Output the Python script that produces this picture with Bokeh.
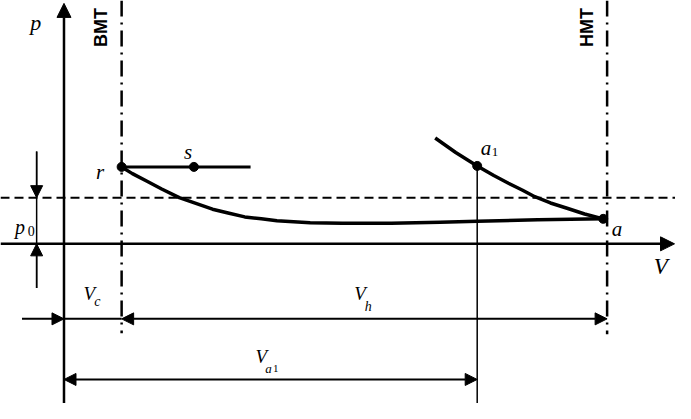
from bokeh.plotting import figure
from bokeh.models import Range1d, Arrow, NormalHead
from bokeh.core.properties import value
from bokeh.embed import file_html
from bokeh.resources import INLINE

# ---- diagram data (V measured from the p axis, p measured from the V axis) ----
V_BMT = 59          # top dead centre (BMT)
V_HMT = 556         # bottom dead centre (HMT)
p_0 = 48            # ambient pressure level
V_a1 = 423          # volume at point a1

# intake line r -> a
V_main = [59, 70, 85, 100, 118, 135, 152, 168, 185, 202, 218, 235, 252, 285, 335, 385, 423, 485, 552]
p_main = [80, 73, 65, 57, 48, 42, 36, 32, 28, 26, 24, 23, 22, 21.5, 21.5, 22.5, 23.5, 25, 26]
# compression line through a1 -> a
V_comp = [380, 401, 423, 440, 455, 469, 482, 498, 515, 533, 552]
p_comp = [110, 95, 81, 71, 63, 56, 49, 42.5, 37, 31, 26]
# exhaust line r - s
V_rs = [59, 191]
p_rs = [80, 80]
# marked points
pt_names = ["r", "s", "a1", "a"]
pt_V = [59, 133, 423, 552]
pt_p = [80, 80, 81, 26]

# axis extents
V_axis = [-65, 625]
p_axis = [-166, 250]
row1_p = -78      # V_c / V_h dimension line
row2_p = -141     # V_a1 dimension line
dim_p0_V = -28    # p0 dimension line

p = figure(width=675, height=403, x_range=Range1d(-65, 626), y_range=Range1d(-166, 253),
           output_backend="svg", toolbar_location=None, x_axis_location=None,
           y_axis_location=None, min_border=0, outline_line_color=None,
           background_fill_color="white", border_fill_color="white")
p.grid.grid_line_color = None

K = "black"

def head(size):
    return NormalHead(size=size, fill_color=K, line_color=K, line_width=1)

def arrow(x0, y0, x1, y1, lw, size, both=False):
    p.add_layout(Arrow(end=head(size), start=head(size) if both else None,
                       x_start=x0, y_start=y0, x_end=x1, y_end=y1,
                       line_width=lw, line_color=K))

# dash-dot dead-centre lines
p.line([V_BMT, V_BMT], [253, -93], line_color=K, line_width=2.5, line_dash="16 6 2 6")
p.line([V_HMT, V_HMT], [253, -94], line_color=K, line_width=2.5, line_dash="16 6 2 6")
# ambient pressure dashed line
p.line([V_axis[0], 640], [p_0, p_0], line_color=K, line_width=2, line_dash="9 5")

# axes
arrow(0, p_axis[0], 0, p_axis[1], 2.5, 14)
arrow(V_axis[0], 0, V_axis[1], 0, 2.5, 14)

# a1 vertical
p.line([V_a1, V_a1], [pt_p[2], p_axis[0]], line_color=K, line_width=1.5)

# p0 dimension
p.line([dim_p0_V, dim_p0_V], [96, -46], line_color=K, line_width=1.5)
arrow(dim_p0_V, 96, dim_p0_V, p_0, 1.5, 12)
arrow(dim_p0_V, -46, dim_p0_V, 0, 1.5, 12)

# V_c / V_h dimension
arrow(-43, row1_p, 0, row1_p, 2, 12)
p.line([0, V_BMT], [row1_p, row1_p], line_color=K, line_width=2)
arrow(V_BMT, row1_p, V_HMT, row1_p, 2, 12, both=True)
# V_a1 dimension
arrow(0, row2_p, V_a1, row2_p, 2, 12, both=True)

# curves
p.line(V_rs, p_rs, line_color=K, line_width=3)
p.line(V_main, p_main, line_color=K, line_width=3.5, line_join="round")
p.line(V_comp, p_comp, line_color=K, line_width=3.5, line_join="round")
p.scatter(pt_V, pt_p, size=9, fill_color=K, line_color=K)

serif = value("Liberation Serif")
sans = value("Liberation Sans")

def txt(x, y, s, size, italic=True, align="center", font=serif):
    p.text([x], [y], text=[s], text_font=font, text_font_size=f"{size}px",
           text_font_style="italic" if italic else "normal",
           text_align=align, text_baseline="alphabetic", text_color=K)

# axis labels
txt(-29, 230, "p", 22)
txt(611, -24, "V", 23)
# point labels
txt(pt_V[0] - 22, pt_p[0] - 5, "r", 21)
txt(pt_V[1] - 6, pt_p[1] + 15, "s", 21)
txt(pt_V[2] + 9, pt_p[2] + 19, "a", 21)
txt(pt_V[2] + 15, pt_p[2] + 14, "1", 13, italic=False, align="left")
txt(pt_V[3] + 14, pt_p[3] - 11, "a", 21)
# p0 label
txt(-45, 17, "p", 20)
txt(-37, 13, "0", 14, italic=False, align="left")
# volume labels
txt(26, -52, "V", 19)
txt(31, -60, "c", 14, align="left")
txt(303, -52, "V", 19)
txt(308, -65, "h", 14, align="left")
txt(202, -117, "V", 19)
txt(206, -130, "a", 13, align="left")
txt(214, -130, "1", 11, italic=False, align="left")

# dead-centre labels (rotated)
for xv, s in [(38, "BMT"), (535, "HMT")]:
    p.text([xv], [225], text=[s], text_font=sans, text_font_size="18px",
           text_font_style="bold", text_align="center", text_baseline="middle",
           angle=1.5708, text_color=K)

open("out.html", "w").write(file_html(p, INLINE))
